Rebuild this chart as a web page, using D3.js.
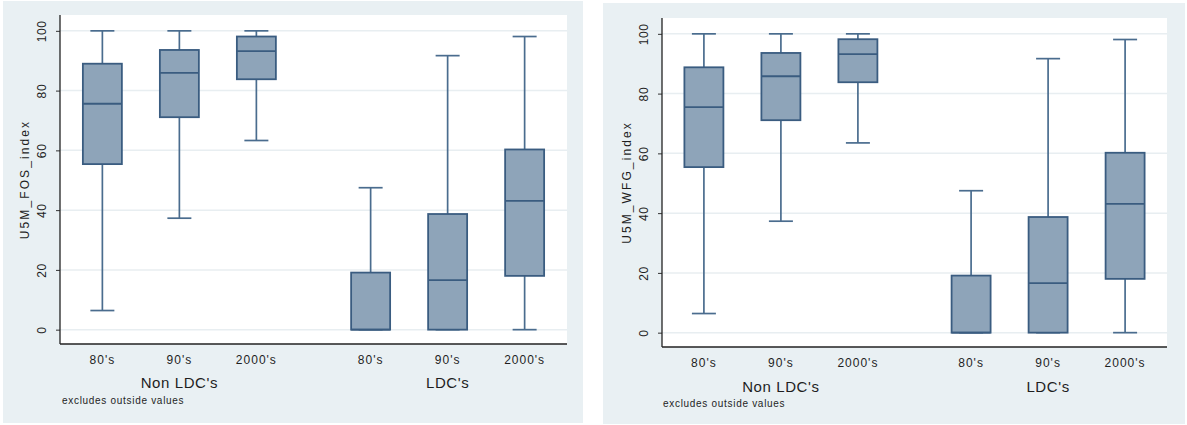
<!DOCTYPE html>
<html>
<head>
<meta charset="utf-8">
<script src="https://cdn.jsdelivr.net/npm/d3@7"></script>
<style>
  html, body { margin: 0; padding: 0; background: #ffffff; }
  svg { display: block; }
  text { font-family: "Liberation Sans", Arial, sans-serif; fill: #1e1e1e; }
</style>
</head>
<body>
<svg id="chart" width="1187" height="425"></svg>
<script>
// Country groups and decades shown along the x axis
const groups = ["Non LDC's", "LDC's"];
const decades = ["80's", "90's", "2000's"];
const yTicks = [0, 20, 40, 60, 80, 100];

// Box statistics per group/decade, order: Non LDC 80s, 90s, 2000s, LDC 80s, 90s, 2000s
// U5M_FOS_index
const fosLow    = [6.4, 37.3, 63.3, 0, 0, 0];
const fosQ1     = [55.4, 71.1, 83.8, 0, 0, 18.0];
const fosMedian = [75.6, 85.9, 93.2, 0, 16.6, 43.1];
const fosQ3     = [89.0, 93.6, 98.1, 19.1, 38.7, 60.3];
const fosHigh   = [100, 100, 100, 47.5, 91.7, 98.1];

// U5M_WFG_index
const wfgLow    = [6.4, 37.3, 63.5, 0, 0, 0];
const wfgQ1     = [55.4, 71.1, 83.8, 0, 0, 18.0];
const wfgMedian = [75.5, 85.8, 93.2, 0, 16.6, 43.1];
const wfgQ3     = [88.8, 93.6, 98.2, 19.1, 38.7, 60.2];
const wfgHigh   = [100, 100, 100, 47.5, 91.7, 98.1];

function buildRows(low, q1, med, q3, high) {
  const rows = [];
  groups.forEach((g, gi) => {
    decades.forEach((d, di) => {
      const i = gi * decades.length + di;
      rows.push({ group: g, decade: d, low: low[i], q1: q1[i], median: med[i], q3: q3[i], high: high[i] });
    });
  });
  return rows;
}

const panels = [
  { title: "U5M_FOS_index", rows: buildRows(fosLow, fosQ1, fosMedian, fosQ3, fosHigh),
    bg: { x: 3, y: 1, w: 580, h: 422 }, plot: { x0: 60, x1: 567, y0: 15, y1: 344 },
    titleX: 25, tickX: 42, decY: 364, groupY: 388, noteX: 62, noteY: 404 },
  { title: "U5M_WFG_index", rows: buildRows(wfgLow, wfgQ1, wfgMedian, wfgQ3, wfgHigh),
    bg: { x: 603, y: 3, w: 582, h: 421 }, plot: { x0: 662, x1: 1167, y0: 18, y1: 347 },
    titleX: 627, tickX: 644, decY: 367, groupY: 392, noteX: 663, noteY: 407 }
];

const svg = d3.select("#chart");
const boxFill = "#8ea4b9";
const boxStroke = "#3a5c80";
const whiskerColor = "#4a6c8e";

panels.forEach(p => {
  const g = svg.append("g");

  // panel background
  g.append("rect")
    .attr("x", p.bg.x).attr("y", p.bg.y)
    .attr("width", p.bg.w).attr("height", p.bg.h)
    .attr("fill", "#e9f0f3");

  // plot region
  g.append("rect")
    .attr("x", p.plot.x0).attr("y", p.plot.y0)
    .attr("width", p.plot.x1 - p.plot.x0).attr("height", p.plot.y1 - p.plot.y0)
    .attr("fill", "#ffffff");

  const y = d3.scaleLinear().domain([-4.8, 105.3]).range([p.plot.y1, p.plot.y0]);

  const xGroup = d3.scalePoint().domain(groups)
    .range([p.plot.x0, p.plot.x1]).padding(0.445);
  const xDecade = d3.scalePoint().domain(decades).range([-77, 77]);
  const xPos = r => xGroup(r.group) + xDecade(r.decade);

  // grid lines
  g.append("g").selectAll("line").data(yTicks).join("line")
    .attr("x1", p.plot.x0).attr("x2", p.plot.x1)
    .attr("y1", d => y(d)).attr("y2", d => y(d))
    .attr("stroke", "#e8eef1").attr("stroke-width", 1.5);

  // y axis
  const yAxis = g.append("g")
    .attr("transform", `translate(${p.plot.x0},0)`)
    .call(d3.axisLeft(y).tickValues(yTicks).tickSize(4).tickPadding(0).tickFormat(d3.format("d")));
  yAxis.select(".domain").remove();
  yAxis.selectAll(".tick line").attr("stroke", "#333").attr("stroke-width", 1);
  yAxis.selectAll(".tick text").remove();
  yAxis.selectAll(".tick").append("text")
    .attr("transform", `translate(${p.tickX - p.plot.x0},0) rotate(-90)`)
    .attr("text-anchor", "middle")
    .attr("dy", "0.35em")
    .style("font-size", "12px")
    .style("letter-spacing", "0.6px")
    .style("fill", "#1e1e1e")
    .text(d => d);

  // axis lines
  g.append("line")
    .attr("x1", p.plot.x0).attr("x2", p.plot.x0)
    .attr("y1", p.plot.y0).attr("y2", p.plot.y1)
    .attr("stroke", "#222").attr("stroke-width", 1.3);
  g.append("line")
    .attr("x1", p.plot.x0).attr("x2", p.plot.x1)
    .attr("y1", p.plot.y1).attr("y2", p.plot.y1)
    .attr("stroke", "#222").attr("stroke-width", 1.3);

  // y axis title
  g.append("text")
    .attr("transform", `translate(${p.titleX},${(p.plot.y0 + p.plot.y1) / 2}) rotate(-90)`)
    .attr("text-anchor", "middle")
    .attr("dy", "0.35em")
    .style("font-size", "12px")
    .style("letter-spacing", "2.1px")
    .text(p.title);

  // boxes
  const boxW = 39, capW = 24;
  const b = g.append("g").selectAll("g").data(p.rows).join("g");

  b.append("line")
    .attr("x1", xPos).attr("x2", xPos)
    .attr("y1", d => y(d.high)).attr("y2", d => y(d.q3))
    .attr("stroke", whiskerColor).attr("stroke-width", 1.7);
  b.append("line")
    .attr("x1", xPos).attr("x2", xPos)
    .attr("y1", d => y(d.q1)).attr("y2", d => y(d.low))
    .attr("stroke", whiskerColor).attr("stroke-width", 1.7);
  b.append("line")
    .attr("x1", d => xPos(d) - capW / 2).attr("x2", d => xPos(d) + capW / 2)
    .attr("y1", d => y(d.high)).attr("y2", d => y(d.high))
    .attr("stroke", whiskerColor).attr("stroke-width", 1.7);
  b.append("line")
    .attr("x1", d => xPos(d) - capW / 2).attr("x2", d => xPos(d) + capW / 2)
    .attr("y1", d => y(d.low)).attr("y2", d => y(d.low))
    .attr("stroke", whiskerColor).attr("stroke-width", 1.7);
  b.append("rect")
    .attr("x", d => xPos(d) - boxW / 2)
    .attr("width", boxW)
    .attr("y", d => y(d.q3))
    .attr("height", d => y(d.q1) - y(d.q3))
    .attr("fill", boxFill)
    .attr("stroke", boxStroke).attr("stroke-width", 1.8);
  b.append("line")
    .attr("x1", d => xPos(d) - boxW / 2).attr("x2", d => xPos(d) + boxW / 2)
    .attr("y1", d => y(d.median)).attr("y2", d => y(d.median))
    .attr("stroke", boxStroke).attr("stroke-width", 1.8);

  // decade labels
  g.append("g").selectAll("text").data(p.rows).join("text")
    .attr("x", xPos).attr("y", p.decY)
    .attr("text-anchor", "middle")
    .style("font-size", "12px")
    .style("letter-spacing", "1px")
    .text(d => d.decade);

  // group labels
  g.append("g").selectAll("text").data(groups).join("text")
    .attr("x", d => xGroup(d)).attr("y", p.groupY)
    .attr("text-anchor", "middle")
    .style("font-size", "15px")
    .style("letter-spacing", "0.6px")
    .text(d => d);

  // note
  g.append("text")
    .attr("x", p.noteX).attr("y", p.noteY)
    .style("font-size", "10px")
    .style("letter-spacing", "0.7px")
    .text("excludes outside values");
});
</script>
</body>
</html>
